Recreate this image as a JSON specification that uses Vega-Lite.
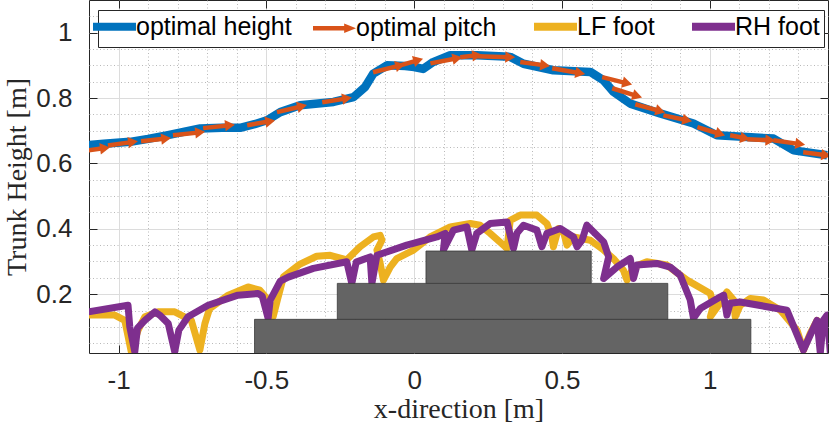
{
  "$schema": "https://vega.github.io/schema/vega-lite/v6.json",
  "width": 739,
  "height": 353,
  "autosize": {"type": "none"},
  "padding": {"left": 89, "top": 0, "right": 3, "bottom": 74},
  "background": "white",
  "config": {
    "view": {"stroke": "#262626", "strokeWidth": 1},
    "axis": {
      "labelFont": "Liberation Sans",
      "labelFontSize": 26,
      "labelColor": "#262626",
      "tickColor": "#262626",
      "tickWidth": 1,
      "titleFont": "Liberation Serif",
      "titleFontSize": 28,
      "titleFontWeight": "normal",
      "titleColor": "#262626",
      "domain": false,
      "gridColor": "#dcdcdc",
      "gridWidth": 1
    }
  },
  "datasets": {
    "height": [
      {"x": -1.103, "y": 0.656}, {"x": -1.05, "y": 0.66}, {"x": -0.961, "y": 0.666}, {"x": -0.9, "y": 0.675},
      {"x": -0.837, "y": 0.686}, {"x": -0.724, "y": 0.707}, {"x": -0.65, "y": 0.709}, {"x": -0.589, "y": 0.709},
      {"x": -0.54, "y": 0.72}, {"x": -0.498, "y": 0.732}, {"x": -0.453, "y": 0.757}, {"x": -0.386, "y": 0.778},
      {"x": -0.273, "y": 0.788}, {"x": -0.205, "y": 0.803}, {"x": -0.166, "y": 0.834}, {"x": -0.138, "y": 0.875},
      {"x": -0.092, "y": 0.9}, {"x": -0.03, "y": 0.898}, {"x": 0.0, "y": 0.895}, {"x": 0.03, "y": 0.889},
      {"x": 0.064, "y": 0.91}, {"x": 0.122, "y": 0.931}, {"x": 0.212, "y": 0.931}, {"x": 0.325, "y": 0.926},
      {"x": 0.37, "y": 0.905}, {"x": 0.471, "y": 0.885}, {"x": 0.596, "y": 0.88}, {"x": 0.641, "y": 0.854},
      {"x": 0.674, "y": 0.819}, {"x": 0.731, "y": 0.783}, {"x": 0.832, "y": 0.753}, {"x": 0.945, "y": 0.722},
      {"x": 1.024, "y": 0.686}, {"x": 1.216, "y": 0.676}, {"x": 1.284, "y": 0.64}, {"x": 1.397, "y": 0.625}
    ],
    "pitch": [
      {"x": -1.103, "y": 0.64, "x2": -1.046, "y2": 0.647, "angle": -8},
      {"x": -1.036, "y": 0.655, "x2": -0.951, "y2": 0.666, "angle": -8},
      {"x": -0.924, "y": 0.668, "x2": -0.839, "y2": 0.676, "angle": -6},
      {"x": -0.816, "y": 0.686, "x2": -0.724, "y2": 0.695, "angle": -6},
      {"x": -0.714, "y": 0.708, "x2": -0.623, "y2": 0.717, "angle": -6},
      {"x": -0.565, "y": 0.717, "x2": -0.487, "y2": 0.729, "angle": -10},
      {"x": -0.464, "y": 0.757, "x2": -0.379, "y2": 0.775, "angle": -13},
      {"x": -0.311, "y": 0.787, "x2": -0.227, "y2": 0.799, "angle": -9},
      {"x": -0.139, "y": 0.879, "x2": -0.047, "y2": 0.9, "angle": -14},
      {"x": -0.047, "y": 0.9, "x2": 0.014, "y2": 0.916, "angle": -16},
      {"x": 0.055, "y": 0.906, "x2": 0.146, "y2": 0.922, "angle": -11},
      {"x": 0.156, "y": 0.925, "x2": 0.213, "y2": 0.931, "angle": -7},
      {"x": 0.213, "y": 0.928, "x2": 0.325, "y2": 0.925, "angle": 2},
      {"x": 0.359, "y": 0.91, "x2": 0.443, "y2": 0.9, "angle": 7},
      {"x": 0.467, "y": 0.891, "x2": 0.562, "y2": 0.876, "angle": 10},
      {"x": 0.636, "y": 0.864, "x2": 0.721, "y2": 0.845, "angle": 14},
      {"x": 0.67, "y": 0.83, "x2": 0.755, "y2": 0.806, "angle": 17},
      {"x": 0.748, "y": 0.781, "x2": 0.833, "y2": 0.76, "angle": 15},
      {"x": 0.843, "y": 0.747, "x2": 0.924, "y2": 0.732, "angle": 12},
      {"x": 0.958, "y": 0.711, "x2": 1.036, "y2": 0.69, "angle": 17},
      {"x": 1.069, "y": 0.686, "x2": 1.12, "y2": 0.677, "angle": 11},
      {"x": 1.127, "y": 0.674, "x2": 1.205, "y2": 0.671, "angle": 2},
      {"x": 1.215, "y": 0.671, "x2": 1.306, "y2": 0.659, "angle": 8},
      {"x": 1.316, "y": 0.634, "x2": 1.394, "y2": 0.625, "angle": 7}
    ],
    "lf": [
      {"i": 1, "x": -1.103, "y": 0.136}, {"i": 2, "x": -1.013, "y": 0.136}, {"i": 3, "x": -0.979, "y": 0.12},
      {"i": 4, "x": -0.957, "y": 0.024}, {"i": 5, "x": -0.934, "y": 0.09}, {"i": 6, "x": -0.911, "y": 0.131},
      {"i": 7, "x": -0.866, "y": 0.146}, {"i": 8, "x": -0.81, "y": 0.146}, {"i": 9, "x": -0.754, "y": 0.12},
      {"i": 10, "x": -0.725, "y": 0.029}, {"i": 11, "x": -0.708, "y": 0.11}, {"i": 12, "x": -0.692, "y": 0.156},
      {"i": 13, "x": -0.629, "y": 0.197}, {"i": 14, "x": -0.562, "y": 0.222}, {"i": 15, "x": -0.522, "y": 0.212},
      {"i": 16, "x": -0.494, "y": 0.182}, {"i": 17, "x": -0.477, "y": 0.131}, {"i": 18, "x": -0.462, "y": 0.185},
      {"i": 19, "x": -0.442, "y": 0.253}, {"i": 20, "x": -0.386, "y": 0.292}, {"i": 21, "x": -0.33, "y": 0.316},
      {"i": 22, "x": -0.284, "y": 0.319}, {"i": 23, "x": -0.228, "y": 0.305}, {"i": 24, "x": -0.183, "y": 0.345},
      {"i": 25, "x": -0.138, "y": 0.375}, {"i": 26, "x": -0.115, "y": 0.38}, {"i": 27, "x": -0.109, "y": 0.365},
      {"i": 28, "x": -0.126, "y": 0.335}, {"i": 29, "x": -0.115, "y": 0.294}, {"i": 30, "x": -0.104, "y": 0.243},
      {"i": 31, "x": -0.081, "y": 0.283}, {"i": 32, "x": -0.059, "y": 0.309}, {"i": 33, "x": -0.002, "y": 0.335},
      {"i": 34, "x": 0.054, "y": 0.375}, {"i": 35, "x": 0.122, "y": 0.406}, {"i": 36, "x": 0.19, "y": 0.416},
      {"i": 37, "x": 0.223, "y": 0.411}, {"i": 38, "x": 0.257, "y": 0.386}, {"i": 39, "x": 0.302, "y": 0.35},
      {"i": 40, "x": 0.314, "y": 0.34}, {"i": 41, "x": 0.325, "y": 0.426}, {"i": 42, "x": 0.359, "y": 0.442},
      {"i": 43, "x": 0.415, "y": 0.442}, {"i": 44, "x": 0.449, "y": 0.416}, {"i": 45, "x": 0.466, "y": 0.375},
      {"i": 46, "x": 0.471, "y": 0.345}, {"i": 47, "x": 0.488, "y": 0.401}, {"i": 48, "x": 0.505, "y": 0.391},
      {"i": 49, "x": 0.517, "y": 0.35}, {"i": 50, "x": 0.539, "y": 0.375}, {"i": 51, "x": 0.596, "y": 0.365},
      {"i": 52, "x": 0.641, "y": 0.335}, {"i": 53, "x": 0.674, "y": 0.309}, {"i": 54, "x": 0.708, "y": 0.273},
      {"i": 55, "x": 0.72, "y": 0.243}, {"i": 56, "x": 0.742, "y": 0.283}, {"i": 57, "x": 0.787, "y": 0.299},
      {"i": 58, "x": 0.855, "y": 0.289}, {"i": 59, "x": 0.923, "y": 0.243}, {"i": 60, "x": 1.002, "y": 0.202},
      {"i": 61, "x": 1.013, "y": 0.166}, {"i": 62, "x": 1.002, "y": 0.131}, {"i": 63, "x": 1.03, "y": 0.166},
      {"i": 64, "x": 1.058, "y": 0.207}, {"i": 65, "x": 1.081, "y": 0.182}, {"i": 66, "x": 1.086, "y": 0.131},
      {"i": 67, "x": 1.103, "y": 0.166}, {"i": 68, "x": 1.137, "y": 0.187}, {"i": 69, "x": 1.182, "y": 0.182},
      {"i": 70, "x": 1.239, "y": 0.151}, {"i": 71, "x": 1.295, "y": 0.09}, {"i": 72, "x": 1.317, "y": 0.029},
      {"i": 73, "x": 1.34, "y": 0.08}, {"i": 74, "x": 1.363, "y": 0.12}
    ],
    "rh": [
      {"i": 1, "x": -1.103, "y": 0.146}, {"i": 2, "x": -0.968, "y": 0.166}, {"i": 3, "x": -0.962, "y": 0.1},
      {"i": 4, "x": -0.945, "y": 0.024}, {"i": 5, "x": -0.936, "y": 0.096}, {"i": 6, "x": -0.911, "y": 0.12},
      {"i": 7, "x": -0.877, "y": 0.146}, {"i": 8, "x": -0.861, "y": 0.136}, {"i": 9, "x": -0.832, "y": 0.11},
      {"i": 10, "x": -0.81, "y": 0.024}, {"i": 11, "x": -0.796, "y": 0.09}, {"i": 12, "x": -0.765, "y": 0.131},
      {"i": 13, "x": -0.697, "y": 0.166}, {"i": 14, "x": -0.596, "y": 0.197}, {"i": 15, "x": -0.528, "y": 0.202},
      {"i": 16, "x": -0.514, "y": 0.194}, {"i": 17, "x": -0.494, "y": 0.126}, {"i": 18, "x": -0.487, "y": 0.182},
      {"i": 19, "x": -0.453, "y": 0.24}, {"i": 20, "x": -0.426, "y": 0.252}, {"i": 21, "x": -0.341, "y": 0.279},
      {"i": 22, "x": -0.228, "y": 0.299}, {"i": 23, "x": -0.211, "y": 0.233}, {"i": 24, "x": -0.196, "y": 0.298},
      {"i": 25, "x": -0.149, "y": 0.314}, {"i": 26, "x": -0.143, "y": 0.233}, {"i": 27, "x": -0.126, "y": 0.319},
      {"i": 28, "x": -0.025, "y": 0.35}, {"i": 29, "x": 0.077, "y": 0.375}, {"i": 30, "x": 0.105, "y": 0.386},
      {"i": 31, "x": 0.099, "y": 0.335}, {"i": 32, "x": 0.133, "y": 0.396}, {"i": 33, "x": 0.178, "y": 0.406},
      {"i": 34, "x": 0.195, "y": 0.335}, {"i": 35, "x": 0.212, "y": 0.386}, {"i": 36, "x": 0.257, "y": 0.416},
      {"i": 37, "x": 0.314, "y": 0.421}, {"i": 38, "x": 0.336, "y": 0.34}, {"i": 39, "x": 0.348, "y": 0.387},
      {"i": 40, "x": 0.37, "y": 0.411}, {"i": 41, "x": 0.415, "y": 0.396}, {"i": 42, "x": 0.432, "y": 0.345},
      {"i": 43, "x": 0.449, "y": 0.386}, {"i": 44, "x": 0.494, "y": 0.401}, {"i": 45, "x": 0.539, "y": 0.375},
      {"i": 46, "x": 0.551, "y": 0.345}, {"i": 47, "x": 0.568, "y": 0.365}, {"i": 48, "x": 0.584, "y": 0.411},
      {"i": 49, "x": 0.641, "y": 0.36}, {"i": 50, "x": 0.658, "y": 0.314}, {"i": 51, "x": 0.641, "y": 0.248},
      {"i": 52, "x": 0.686, "y": 0.283}, {"i": 53, "x": 0.731, "y": 0.309}, {"i": 54, "x": 0.742, "y": 0.248},
      {"i": 55, "x": 0.754, "y": 0.289}, {"i": 56, "x": 0.821, "y": 0.294}, {"i": 57, "x": 0.866, "y": 0.283},
      {"i": 58, "x": 0.9, "y": 0.258}, {"i": 59, "x": 0.934, "y": 0.182}, {"i": 60, "x": 0.945, "y": 0.126},
      {"i": 61, "x": 0.968, "y": 0.156}, {"i": 62, "x": 1.036, "y": 0.192}, {"i": 63, "x": 1.047, "y": 0.197},
      {"i": 64, "x": 1.058, "y": 0.136}, {"i": 65, "x": 1.069, "y": 0.172}, {"i": 66, "x": 1.103, "y": 0.176},
      {"i": 67, "x": 1.261, "y": 0.151}, {"i": 68, "x": 1.317, "y": 0.029}, {"i": 69, "x": 1.34, "y": 0.075},
      {"i": 70, "x": 1.363, "y": 0.12}, {"i": 71, "x": 1.374, "y": 0.02}, {"i": 72, "x": 1.384, "y": 0.12},
      {"i": 73, "x": 1.397, "y": 0.136}, {"i": 74, "x": 1.408, "y": 0.02}
    ],
    "steps": [
      {"x0": -0.54, "x1": 1.139, "y0": 0.0, "y1": 0.123},
      {"x0": -0.26, "x1": 0.858, "y0": 0.123, "y1": 0.233},
      {"x0": 0.04, "x1": 0.599, "y0": 0.233, "y1": 0.332}
    ]
  },
  "resolve": {"axis": {"x": "independent", "y": "independent"}},
  "layer": [
    {
      "data": {"name": "height"},
      "mark": {"type": "point", "opacity": 0},
      "encoding": {
        "x": {"field": "x", "type": "quantitative", "scale": {"domain": [-1.1, 1.4], "nice": false, "zero": false},
          "axis": {"orient": "bottom", "values": [-0.9, -0.8, -0.7, -0.6, -0.4, -0.3, -0.2, -0.1, 0.1, 0.2, 0.3, 0.4, 0.6, 0.7, 0.8, 0.9, 1.1, 1.2, 1.3],
            "grid": true, "gridDash": [1, 2.5], "gridColor": "#b9b9b9", "labels": false, "ticks": false, "title": null}},
        "y": {"field": "y", "type": "quantitative", "scale": {"domain": [0.02, 1.1], "nice": false, "zero": false},
          "axis": {"orient": "left", "values": [0.05, 0.1, 0.15, 0.25, 0.3, 0.35, 0.45, 0.5, 0.55, 0.65, 0.7, 0.75, 0.85, 0.9, 0.95, 1.05],
            "grid": true, "gridDash": [1, 2.5], "gridColor": "#b9b9b9", "labels": false, "ticks": false, "title": null}}
      }
    },
    {
      "data": {"name": "height"},
      "mark": {"type": "point", "opacity": 0},
      "encoding": {
        "x": {"field": "x", "type": "quantitative", "scale": {"domain": [-1.1, 1.4], "nice": false, "zero": false},
          "axis": {"orient": "bottom", "values": [-1, -0.5, 0, 0.5, 1], "format": "~g", "labelExpr": "replace(datum.label, '\u2212', '-')",
            "grid": true, "tickSize": -8, "labelPadding": 22, "title": "x-direction [m]", "titlePadding": 2}},
        "y": {"field": "y", "type": "quantitative", "scale": {"domain": [0.02, 1.1], "nice": false, "zero": false},
          "axis": {"orient": "left", "values": [0.2, 0.4, 0.6, 0.8, 1], "format": "~g",
            "grid": true, "tickSize": -8, "labelPadding": 25, "title": "Trunk Height [m]", "titlePadding": 4}}
      }
    },
    {
      "data": {"name": "height"},
      "mark": {"type": "point", "opacity": 0},
      "encoding": {
        "x": {"field": "x", "type": "quantitative", "scale": {"domain": [-1.1, 1.4], "nice": false, "zero": false},
          "axis": {"orient": "top", "values": [-1, -0.5, 0, 0.5, 1], "grid": false, "labels": false, "tickSize": -8, "title": null}},
        "y": {"field": "y", "type": "quantitative", "scale": {"domain": [0.02, 1.1], "nice": false, "zero": false},
          "axis": {"orient": "right", "values": [0.2, 0.4, 0.6, 0.8, 1], "grid": false, "labels": false, "tickSize": -8, "title": null}}
      }
    },
    {
      "data": {"name": "height"},
      "transform": [{"calculate": "'optimal height'", "as": "series"}],
      "mark": {"type": "line", "strokeWidth": 8.5, "strokeJoin": "round", "clip": true},
      "encoding": {
        "x": {"field": "x", "type": "quantitative", "scale": {"domain": [-1.1, 1.4], "nice": false, "zero": false}, "axis": null},
        "y": {"field": "y", "type": "quantitative", "scale": {"domain": [0.02, 1.1], "nice": false, "zero": false}, "axis": null},
        "color": {"field": "series", "type": "nominal",
          "scale": {"domain": ["optimal height", "optimal pitch", "LF foot", "RH foot"], "range": ["#0072BD", "#D95319", "#EDB120", "#7E2F8E"]},
          "legend": {
            "orient": "none", "legendX": 9, "legendY": 10, "direction": "horizontal", "columns": 4, "title": null,
            "symbolType": "stroke", "symbolSize": 1849, "symbolStrokeWidth": 8,
            "labelFont": "Liberation Sans", "labelFontSize": 25, "labelColor": "#000000", "labelOffset": 9, "labelLimit": 300,
            "columnPadding": 21, "padding": 4, "strokeColor": "#262626", "fillColor": "#ffffff",
            "encode": {"symbols": {"update": {
              "shape": {"signal": "datum.label === 'optimal pitch' ? 'M-1,-0.1L0.45,-0.1L0.45,-0.22L1,0L0.45,0.22L0.45,0.1L-1,0.1Z' : 'stroke'"},
              "fill": {"signal": "datum.label === 'optimal pitch' ? '#D95319' : 'transparent'"},
              "strokeWidth": {"signal": "datum.label === 'optimal pitch' ? 0 : 8"}
            }}}
          }}
      }
    },
    {
      "data": {"name": "pitch"},
      "transform": [{"calculate": "'optimal pitch'", "as": "series"}],
      "mark": {"type": "rule", "strokeWidth": 4.5, "strokeCap": "butt", "clip": true},
      "encoding": {
        "x": {"field": "x", "type": "quantitative", "axis": null},
        "y": {"field": "y", "type": "quantitative", "axis": null},
        "x2": {"field": "x2"},
        "y2": {"field": "y2"},
        "color": {"field": "series", "type": "nominal", "legend": null}
      }
    },
    {
      "data": {"name": "pitch"},
      "transform": [{"calculate": "'optimal pitch'", "as": "series"}],
      "mark": {"type": "point", "shape": "triangle-right", "filled": true, "opacity": 1, "size": 130, "clip": true},
      "encoding": {
        "x": {"field": "x2", "type": "quantitative", "axis": null},
        "y": {"field": "y2", "type": "quantitative", "axis": null},
        "angle": {"field": "angle", "type": "quantitative", "scale": null},
        "color": {"field": "series", "type": "nominal", "legend": null}
      }
    },
    {
      "data": {"name": "lf"},
      "transform": [{"calculate": "'LF foot'", "as": "series"}],
      "mark": {"type": "line", "strokeWidth": 7, "strokeJoin": "round", "strokeCap": "round", "clip": true},
      "encoding": {
        "x": {"field": "x", "type": "quantitative", "axis": null},
        "y": {"field": "y", "type": "quantitative", "axis": null},
        "order": {"field": "i", "type": "quantitative"},
        "color": {"field": "series", "type": "nominal", "legend": null}
      }
    },
    {
      "data": {"name": "rh"},
      "transform": [{"calculate": "'RH foot'", "as": "series"}],
      "mark": {"type": "line", "strokeWidth": 7, "strokeJoin": "round", "strokeCap": "round", "clip": true},
      "encoding": {
        "x": {"field": "x", "type": "quantitative", "axis": null},
        "y": {"field": "y", "type": "quantitative", "axis": null},
        "order": {"field": "i", "type": "quantitative"},
        "color": {"field": "series", "type": "nominal", "legend": null}
      }
    },
    {
      "data": {"name": "steps"},
      "mark": {"type": "rect", "fill": "#646464", "stroke": "#3a3a3a", "strokeWidth": 0.8, "clip": true},
      "encoding": {
        "x": {"field": "x0", "type": "quantitative", "axis": null},
        "x2": {"field": "x1"},
        "y": {"field": "y0", "type": "quantitative", "axis": null},
        "y2": {"field": "y1"}
      }
    }
  ]
}
